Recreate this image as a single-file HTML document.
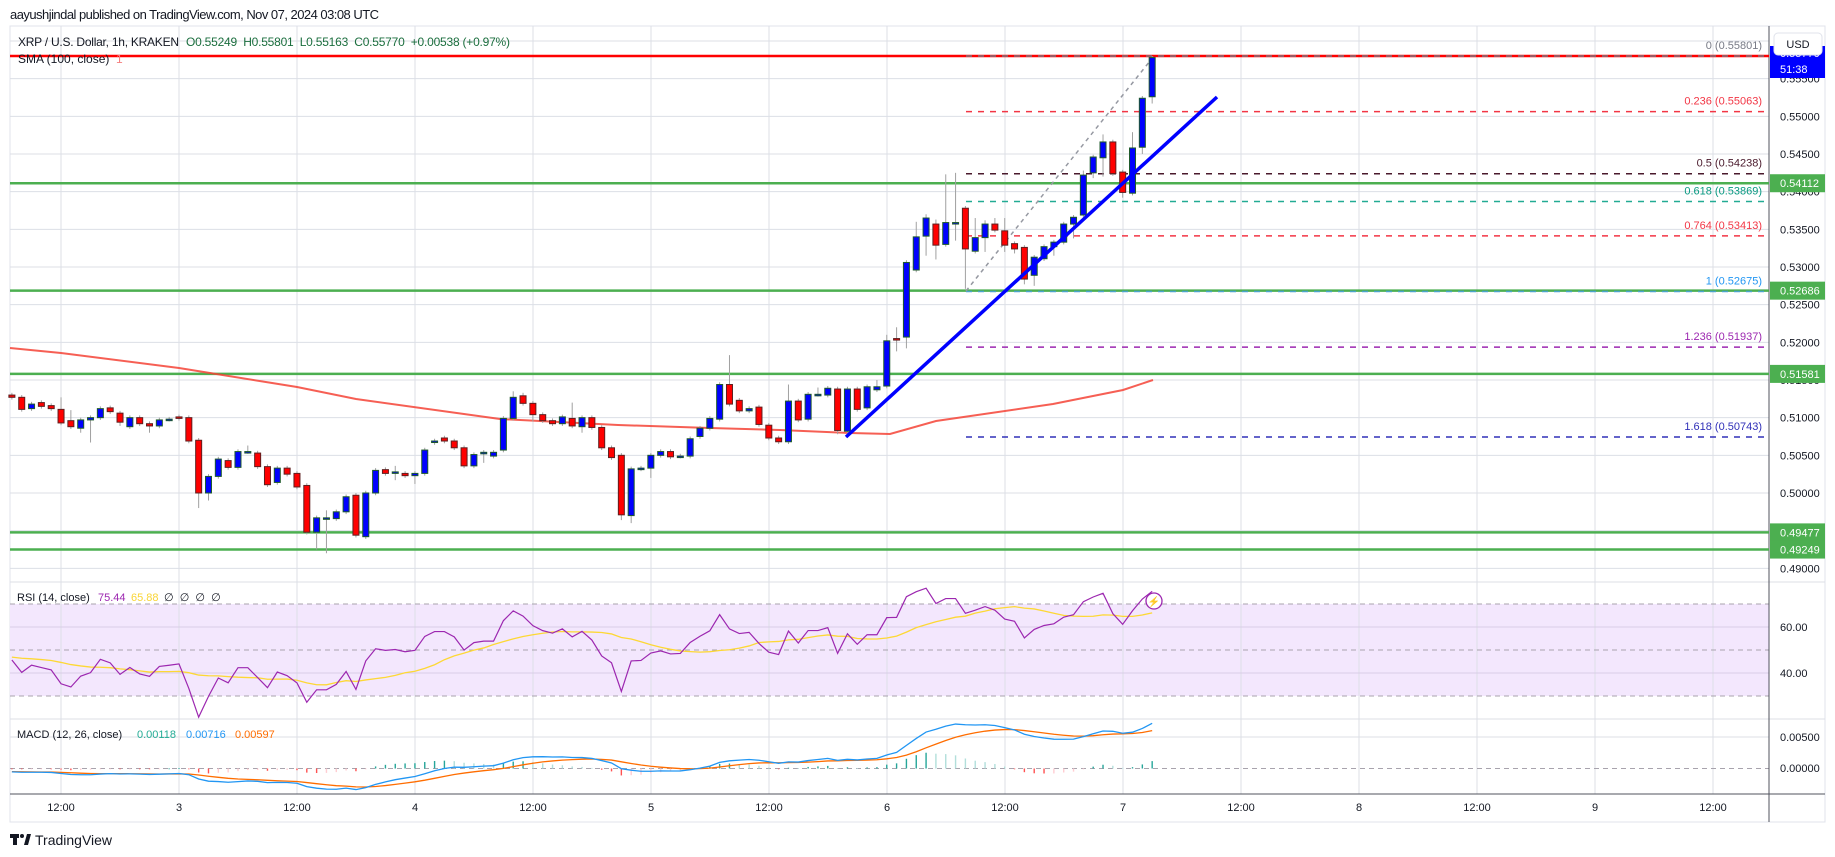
<!DOCTYPE html>
<html><head><meta charset="utf-8">
<style>
html,body{margin:0;padding:0;background:#fff;}
svg{display:block;font-family:"Liberation Sans",sans-serif;}
</style></head>
<body>
<svg id="c" width="1835" height="857" xmlns="http://www.w3.org/2000/svg"></svg>
<script>
const D=[
[.5130,.5127],[.5127,.5111],[.5112,.5118],[.5120,.5115],[.5116,.5112],[.5111,.5093,.5127],[.5096,.5088,.5110],[.5086,.5097,0,.5080],[.5097,.5100,0,.5067],[.5100,.5112],
[.5113,.5108],[.5106,.5094,0,.5089],[.5088,.5100],[.5100,.5092],[.5092,.5089,0,.5080],[.5089,.5097],[.5098,.5098],
[.5101,.5099],[.5100,.5069],[.5070,.5000,0,.4980],[.5000,.5022,0,.4990],[.5022,.5045],[.5043,.5034],[.5034,.5055],[.5055,.5055,.5063],[.5053,.5035],[.5035,.5011],
[.5014,.5033],[.5033,.5025],[.5026,.5008],[.5010,.4948],[.4948,.4967,0,.4925],[.4967,.4967,.4977,.4920],[.4966,.4975],[.4975,.4995],[.4997,.4944],[.4942,.5000],
[.5000,.5030],[.5031,.5026],[.5028,.5028,.5036,.5017],[.5026,.5023],[.5023,.5026,0,.5012],[.5026,.5057],[.5067,.5069],[.5073,.5069],[.5069,.5060],[.5060,.5036],
[.5036,.5051],[.5052,.5054,0,.5040],[.5049,.5054],[.5057,.5099],[.5099,.5127,.5135],[.5129,.5119,.5133],[.5119,.5104,0,.5095],[.5104,.5096],[.5096,.5092],[.5092,.5101],
[.5099,.5089,.5120],[.5088,.5100,0,.5080],[.5100,.5087],[.5087,.5060],[.5060,.5047],[.5050,.4971,0,.4964],[.4970,.5032,0,.4960],[.5032,.5033],[.5033,.5050,0,.5020],[.5050,.5055],
[.5055,.5048],[.5049,.5049],[.5049,.5072],[.5075,.5086],[.5086,.5099],[.5098,.5144],[.5144,.5118,.5183],[.5123,.5109],[.5109,.5112],[.5114,.5091],
[.5090,.5073],[.5073,.5068],[.5068,.5122,.5144],[.5122,.5097],[.5098,.5131],[.5131,.5131,.5140],[.5130,.5139],[.5138,.5083,0,.5078],[.5082,.5138],[.5138,.5111],
[.5113,.5141],[.5137,.5141,.5150],[.5142,.5202,.5210],[.5205,.5203,.5220,.5188],[.5207,.5306,0,.5192],[.5296,.5340,.5360],[.5341,.5365,.5370,.5315],[.5357,.5329,.5363,.5310],[.5330,.5359,.5423],[.5359,.5359,.5425,.5335],
[.5378,.5324,0,.5271],[.5321,.5339,.5365],[.5339,.5357,.5362,.5320],[.5357,.5349,.5365],[.5348,.5329,.5365,.5320],[.5331,.5324,0,.5318],[.5326,.5284,0,.5277],[.5289,.5313,0,.5275],[.5311,.5327],[.5327,.5333,0,.5315],
[.5333,.5357],[.5357,.5366,0,.5338],[.5369,.5422,.5428],[.5425,.5446,0,.5418],[.5445,.5466,.5476,.5420],[.5466,.5424],[.5426,.5399,0,.5392],[.5398,.5458,.5479],[.5459,.5524,0,.5450],[.5526,.5578,.55801,.5517]
];
const X=t=>179+9.83*t, Y=p=>56+(0.55801-p)*7533;
let s='';
const L=(x1,y1,x2,y2,c,w,da)=>`<line x1="${x1}" y1="${y1}" x2="${x2}" y2="${y2}" stroke="${c}" stroke-width="${w||1}"${da?` stroke-dasharray="${da}"`:''}/>`;
const T=(x,y,txt,c,fs,anc,extra)=>`<text x="${x}" y="${y}" fill="${c||'#131722'}" font-size="${fs||11}"${anc?` text-anchor="${anc}"`:''} ${extra||''}>${txt}</text>`;
// frame
s+=`<rect x="10" y="26" width="1815" height="796" fill="#fff" stroke="#e0e3eb"/>`;
// RSI band
s+=`<rect x="10" y="604" width="1759" height="92" fill="#f3e7fd"/>`;
// vertical grid
for(let k=-1;k<=13;k++){const x=179+118*k;s+=L(x,26,x,794,'#dcdfe6');}
// horizontal grid price
for(let p=0.490;p<=0.5601;p+=0.005){const y=Y(p);if(y>28&&y<582)s+=L(10,y,1769,y,'#dcdfe6');}
// rsi grid
s+=L(10,627,1769,627,'#d8cce6');s+=L(10,673,1769,673,'#d8cce6');
[604,650,696].forEach(y=>s+=L(10,y,1769,y,'#a8a3ad',1,'5 4'));
s+=L(10,737,1769,737,'#dcdfe6');s+=L(10,768.5,1769,768.5,'#a8a3ad',1,'5 4');
// pane separators
s+=L(10,582,1825,582,'#dcdfe6');s+=L(10,719,1825,719,'#dcdfe6');
s+=L(10,794,1825,794,'#50535e');s+=L(1769,26,1769,822,'#50535e');
// green horizontal levels
[0.54112,0.52686,0.51581,0.49477,0.49249].forEach(p=>s+=L(10,Y(p),1769,Y(p),'#4caf50',2.5));
// SMA
const sma=[[10,348],[61,353],[179,368],[297,387],[356,399],[500,419],[618,425],[710,428],[780,430],[850,433],[890,434],[936,421],[1053,404],[1123,390],[1153,380]];
s+=`<polyline points="${sma.map(a=>a.join(',')).join(' ')}" fill="none" stroke="#f44336" stroke-width="2" opacity="0.85"/>`;
// fib
const fib=[[0,0.55801,'#787b86','#787b86'],[0.236,0.55063,'#f23645','#f23645'],[0.5,0.54238,'#4a1a2c','#4a1a2c'],[0.618,0.53869,'#22ab94','#089981'],[0.764,0.53413,'#f23645','#f23645'],[1,0.52675,'#4aa3c9','#2196f3'],[1.236,0.51937,'#9c27b0','#9c27b0'],[1.618,0.50743,'#3030b8','#3030b8']];
s+=L(10,Y(0.55801),1769,Y(0.55801),'#ff0000',2.5);
fib.forEach(f=>{const y=Y(f[1]);s+=L(966,y,1769,y,f[2],1.5,'6 6');s+=T(1762,y-7,`${f[0]} (${f[1].toFixed(5)})`,f[3],11,'end');});
s+=L(966,291,1154,56,'#9598a1',1.5,'4 4');
// candles
D.forEach((d,i)=>{const t=i-17,x=X(t);let[o,c,h,l]=d;const hi=Math.max(o,c),lo=Math.min(o,c);h=h||hi+0.0003;l=l||lo-0.0003;
s+=L(x,Y(h),x,Y(l),'#a0a0a0',1);
const up=c>=o;let y1=Y(hi),y2=Y(lo);if(y2-y1<1.5){y2=y1+1.5;}
s+=`<rect x="${x-3}" y="${y1}" width="6" height="${y2-y1}" fill="${up?'#0000ff':'#ff0000'}" stroke="${up?'#1e5a2a':'#5e1f1f'}" stroke-width="1"/>`;});
// trendline
s+=L(846,437,1217,97,'#0000ff',3.5);
// RSI & MACD compute
const C=D.map(d=>d[1]);
let ag=0.00042,al=0.00050,rsi=[];
for(let i=0;i<C.length;i++){const ch=i?C[i]-C[i-1]:0;if(i){ag=(ag*13+Math.max(ch,0))/14;al=(al*13+Math.max(-ch,0))/14;}rsi.push(100-100/(1+ag/al));}
let hist=new Array(14).fill(47).concat(rsi),rma=[];
for(let i=0;i<rsi.length;i++){let sm=0;for(let j=i+1;j<=i+14;j++)sm+=hist[j];rma.push(sm/14);}
const ry=v=>650-(v-50)*2.3;
s+=`<polyline points="${rma.map((v,i)=>X(i-17)+','+ry(v)).join(' ')}" fill="none" stroke="#fdd835" stroke-width="1.3"/>`;
s+=`<polyline points="${rsi.map((v,i)=>X(i-17)+','+ry(v)).join(' ')}" fill="none" stroke="#9c27b0" stroke-width="1.2"/>`;
let e12=C[0]-0.0003,e26=C[0]+0.0003,sig=-0.0005,m=[],sg=[];
C.forEach(c=>{e12+= (c-e12)*2/13;e26+=(c-e26)*2/27;const mv=e12-e26;sig+=(mv-sig)*2/10;m.push(mv);sg.push(sig);});
const my=v=>768.5-v*6300;
let ph=0;
m.forEach((v,i)=>{const h=v-sg[i];const x=X(i-17);const col=h>=0?(h>=ph?'#26a69a':'#b2dfdb'):(h<=ph?'#ff5252':'#ffcdd2');ph=h;s+=`<rect x="${x-0.7}" y="${Math.min(my(0),my(h))}" width="1.4" height="${Math.max(0.8,Math.abs(my(h)-my(0)))}" fill="${col}"/>`;});
s+=`<polyline points="${sg.map((v,i)=>X(i-17)+','+my(v)).join(' ')}" fill="none" stroke="#ff6d00" stroke-width="1.3"/>`;
s+=`<polyline points="${m.map((v,i)=>X(i-17)+','+my(v)).join(' ')}" fill="none" stroke="#2196f3" stroke-width="1.3"/>`;
// lightning
s+=`<circle cx="1154" cy="601" r="8" fill="#fff" stroke="#9c27b0" stroke-width="1.3"/>`+T(1154,605,'⚡','#9c27b0',10,'middle');
// price axis labels
for(let p=0.490;p<=0.5551;p+=0.005){s+=T(1780,Y(p)+4,p.toFixed(5),'#131722',11);}
[[0.54112],[0.52686],[0.51581],[0.49477],[0.49249]].forEach(a=>{const y=Y(a[0]);s+=`<rect x="1770" y="${y-9}" width="55" height="18" fill="#4caf50"/>`+T(1780,y+4,a[0].toFixed(5),'#fff',11);});
s+=`<rect x="1770" y="46" width="55" height="32" fill="#0000ff"/>`+T(1780,57,'0.55770','#fff',11)+T(1780,73,'51:38','#fff',11);
s+=`<rect x="1774" y="33" width="48" height="22" rx="4" fill="#fff" stroke="#e0e3eb"/>`+T(1798,48,'USD','#131722',11,'middle');
[[60,627],[40,673]].forEach(a=>s+=T(1780,a[1]+4,a[0].toFixed(2),'#131722',11));
s+=T(1780,741,'0.00500','#131722',11)+T(1780,772,'0.00000','#131722',11);
// time labels
const tl=['12:00','3','12:00','4','12:00','5','12:00','6','12:00','7','12:00','8','12:00','9','12:00'];
tl.forEach((l,k)=>s+=T(61+118*k,811,l,'#131722',11,'middle'));
// header
s+=T(10,19,'aayushjindal published on TradingView.com, Nov 07, 2024 03:08 UTC','#131722',13,'',`textLength="369"`);
s+=T(18,46,'XRP / U.S. Dollar, 1h, KRAKEN','#131722',12,'',`textLength="161"`);
s+=T(186,46,'O0.55249&#160;&#160;H0.55801&#160;&#160;L0.55163&#160;&#160;C0.55770&#160;&#160;+0.00538 (+0.97%)','#1b6e3e',12,'',`textLength="324"`);
s+=T(18,63,'SMA (100, close)','#131722',12)+T(116,63,'1','#f57f7f',12);
s+=T(17,601,'RSI (14, close)','#131722',11)+T(98,601,'75.44','#9c27b0',11)+T(131,601,'65.88','#f9d536',11)+T(164,601,'∅&#160;&#160;∅&#160;&#160;∅&#160;&#160;∅','#131722',11);
s+=T(17,738,'MACD (12, 26, close)','#131722',11)+T(137,738,'0.00118','#22ab94',11)+T(186,738,'0.00716','#2196f3',11)+T(235,738,'0.00597','#ff6d00',11);
// logo
s+=`<rect x="10" y="834" width="9" height="4" fill="#131722"/><rect x="13" y="834" width="4" height="11" fill="#131722"/><circle cx="22" cy="836" r="2" fill="#131722"/><polygon points="24,845 27,834 31,834 28,845" fill="#131722"/>`;
s+=T(35,845,'TradingView','#131722',14);
document.getElementById('c').innerHTML=s;
</script>
</body></html>
